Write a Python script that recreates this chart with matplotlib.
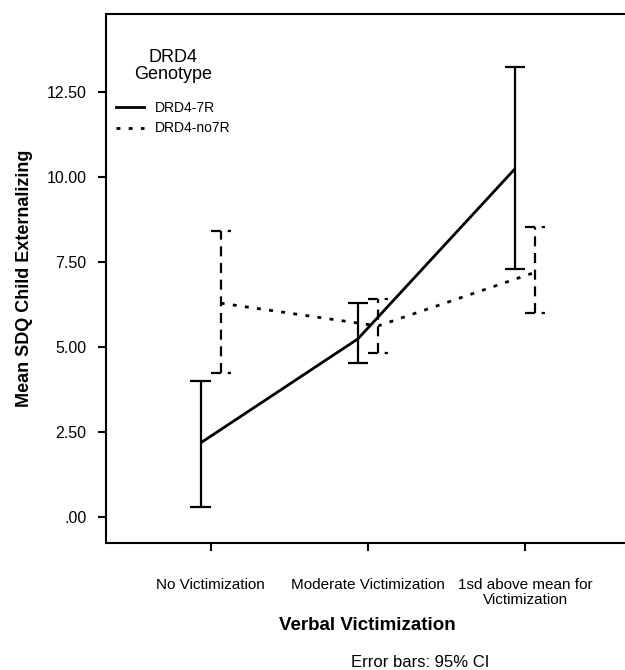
import matplotlib
matplotlib.use("Agg")
import matplotlib.pyplot as plt
from matplotlib.lines import Line2D
import numpy as np

plt.rcParams['font.family'] = ['Liberation Sans', 'DejaVu Sans']

categories = ["No Victimization", "Moderate Victimization", "1sd above mean for\nVictimization"]
mean_7r = [2.18, 5.24, 10.25]
lo_7r = [0.29, 4.53, 7.29]
hi_7r = [4.00, 6.29, 13.24]
mean_no7r = [6.29, 5.62, 7.20]
lo_no7r = [4.24, 4.82, 6.00]
hi_no7r = [8.41, 6.41, 8.53]
ytick_vals = [0.0, 2.5, 5.0, 7.5, 10.0, 12.5]
ytick_labels = [".00", "2.50", "5.00", "7.50", "10.00", "12.50"]

fig = plt.figure(figsize=(6.25, 6.70), dpi=100)
ax = fig.add_axes([0.1696, 0.1896, 0.835, 0.7894])

x = np.arange(len(categories))
off = 0.064
x7 = x - off
xn = x + off
cap = 0.064
dash_err = (0, (4.5, 3.0))
dot_line = (0, (1.4, 3.0))

# DRD4-7R
ax.plot(x7, mean_7r, color='black', lw=2.0, solid_capstyle='butt')
ax.vlines(x7, lo_7r, hi_7r, color='black', lw=1.6)
ax.hlines(lo_7r, x7 - cap, x7 + cap, color='black', lw=1.6)
ax.hlines(hi_7r, x7 - cap, x7 + cap, color='black', lw=1.6)

# DRD4-no7R
ax.plot(xn, mean_no7r, color='black', lw=2.0, linestyle=dot_line)
ax.vlines(xn, lo_no7r, hi_no7r, color='black', lw=1.6, linestyle=dash_err)
ax.hlines(lo_no7r, xn - cap, xn + cap, color='black', lw=1.6, linestyle=dash_err)
ax.hlines(hi_no7r, xn - cap, xn + cap, color='black', lw=1.6, linestyle=dash_err)

ax.set_xlim(-0.665, 2.652)
ax.set_ylim(-0.76, 14.79)
ax.set_xticks(x)
ax.set_xticklabels(categories, fontsize=11, linespacing=1.15)
ax.set_yticks(ytick_vals)
ax.set_yticklabels(ytick_labels, fontsize=11.5)
ax.tick_params(axis='both', direction='out', length=6, width=1.5, color='black')
ax.tick_params(axis='x', pad=19)
ax.tick_params(axis='y', pad=8)

for s in ['left', 'top', 'bottom', 'right']:
    ax.spines[s].set_linewidth(1.5)
    ax.spines[s].set_color('black')

ax.set_ylabel("Mean SDQ Child Externalizing", fontsize=13, fontweight='bold', labelpad=10)
ax.set_xlabel("Verbal Victimization", fontsize=13.5, fontweight='bold', labelpad=7)

handles = [Line2D([0], [0], color='black', lw=2.0),
           Line2D([0], [0], color='black', lw=2.0, linestyle=dot_line)]
leg = ax.legend(handles, ["DRD4-7R", "DRD4-no7R"], title="DRD4\nGenotype",
                loc='upper left', bbox_to_anchor=(0.0, 0.952), frameon=False,
                fontsize=10, title_fontsize=13, handlelength=2.0, handletextpad=0.8,
                labelspacing=0.45, borderaxespad=0.3)
leg.get_title().set_multialignment('center')
leg.get_title().set_linespacing(1.0)
leg._legend_box.align = "center"
leg._legend_box.sep = 13

fig.text(0.672, 0.0, "Error bars: 95% CI", fontsize=12, ha='center', va='bottom')

fig.savefig("out.png", dpi=100)
